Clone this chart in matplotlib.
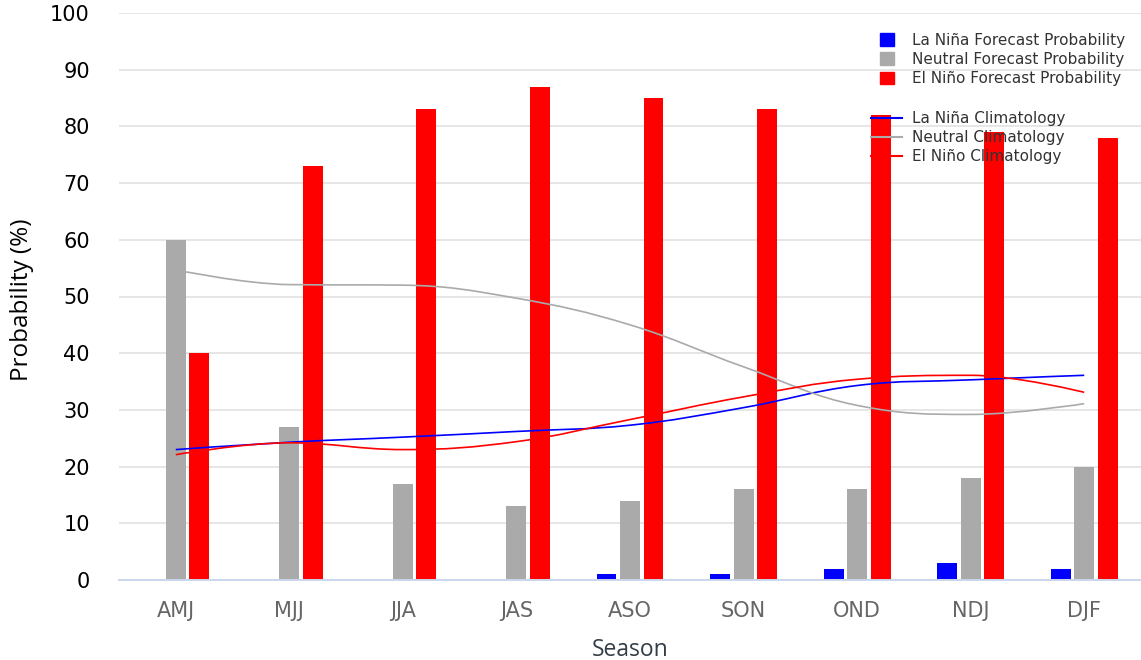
import matplotlib.pyplot as plt
from matplotlib.path import Path
from matplotlib.patches import PathPatch, Patch
from matplotlib.lines import Line2D

# Seasons and forecast probabilities (%)
seasons = ['AMJ', 'MJJ', 'JJA', 'JAS', 'ASO', 'SON', 'OND', 'NDJ', 'DJF']
lanina_prob = [0, 0, 0, 0, 1, 1, 2, 3, 2]
neutral_prob = [60, 27, 17, 13, 14, 16, 16, 18, 20]
elnino_prob = [40, 73, 83, 87, 85, 83, 82, 79, 78]

# Climatology (%)
lanina_clim = [23.0, 24.3, 25.2, 26.2, 27.3, 30.4, 34.3, 35.3, 36.1]
neutral_clim = [54.7, 52.1, 52.0, 49.7, 45.0, 37.6, 30.8, 29.2, 31.1]
elnino_clim = [22.1, 24.2, 23.0, 24.4, 28.3, 32.3, 35.4, 36.1, 33.1]

BLUE = '#0000ff'
GRAY = '#aaaaaa'
RED = '#ff0000'


def spline_path(xs, ys, smoothing=1.5):
    # bezier control points like a highcharts "spline" series
    n = len(xs)
    left = [None] * n
    right = [None] * n
    d = smoothing + 1
    for i in range(n):
        x, y = xs[i], ys[i]
        if 0 < i < n - 1:
            lx, ly = xs[i - 1], ys[i - 1]
            nx, ny = xs[i + 1], ys[i + 1]
            lcx = (smoothing * x + lx) / d
            lcy = (smoothing * y + ly) / d
            rcx = (smoothing * x + nx) / d
            rcy = (smoothing * y + ny) / d
            corr = (rcy - lcy) * (rcx - x) / (rcx - lcx) + y - rcy
            lcy += corr
            rcy += corr
            if lcy > ly and lcy > y:
                lcy = max(ly, y)
                rcy = 2 * y - lcy
            elif lcy < ly and lcy < y:
                lcy = min(ly, y)
                rcy = 2 * y - lcy
            if rcy > ny and rcy > y:
                rcy = max(ny, y)
                lcy = 2 * y - rcy
            elif rcy < ny and rcy < y:
                rcy = min(ny, y)
                lcy = 2 * y - rcy
            left[i] = (lcx, lcy)
            right[i] = (rcx, rcy)
        else:
            left[i] = right[i] = (x, y)
    verts = [(xs[0], ys[0])]
    codes = [Path.MOVETO]
    for i in range(1, n):
        verts += [right[i - 1], left[i], (xs[i], ys[i])]
        codes += [Path.CURVE4] * 3
    return Path(verts, codes)


fig = plt.figure(figsize=(11.41, 6.6), dpi=100)
ax = fig.add_axes([119 / 1141, 80 / 660, 1022 / 1141, 567 / 660])

x = list(range(len(seasons)))
w = 0.176
off = 0.207
ax.bar([i - off for i in x], lanina_prob, width=w, color=BLUE, zorder=2)
ax.bar(x, neutral_prob, width=w, color=GRAY, zorder=2)
ax.bar([i + off for i in x], elnino_prob, width=w, color=RED, zorder=2)

for vals, col in [(lanina_clim, BLUE), (neutral_clim, GRAY), (elnino_clim, RED)]:
    ax.add_patch(PathPatch(spline_path(x, vals), facecolor='none',
                           edgecolor=col, lw=1.2, zorder=3))

ax.set_xlim(-0.5, 8.5)
ax.set_ylim(0, 100)
ax.set_yticks(range(0, 101, 10))
ax.set_xticks(x)
ax.set_xticklabels(seasons)
ax.tick_params(axis='both', length=0)
ax.tick_params(axis='y', labelsize=15, labelcolor='black', pad=21)
ax.tick_params(axis='x', labelsize=15, labelcolor='#666666', pad=15)
ax.grid(axis='y', color='#e6e6e6', lw=1.4, zorder=0)
for s in ['top', 'right', 'left']:
    ax.spines[s].set_visible(False)
ax.spines['bottom'].set_color('#ccd6eb')
ax.spines['bottom'].set_linewidth(1.4)
ax.set_axisbelow(True)

ax.set_xlabel('Season', fontsize=16.5, color='#333d47', family='Open Sans', labelpad=12)
ax.set_ylabel('Probability (%)', fontsize=17.5, color='black', family='Open Sans')
ax.yaxis.set_label_coords(-0.083, 0.495)

bar_handles = [Patch(color=BLUE), Patch(color=GRAY), Patch(color=RED)]
leg1 = fig.legend(bar_handles,
                  ['La Niña Forecast Probability', 'Neutral Forecast Probability',
                   'El Niño Forecast Probability'],
                  loc='upper left', bbox_to_anchor=(880 / 1141, 1 - 33 / 660),
                  frameon=False, fontsize=11, handlelength=0.92, handleheight=0.92,
                  handletextpad=1.18, labelspacing=0.27, borderpad=0, borderaxespad=0,
                  labelcolor='#333333')
line_handles = [Line2D([], [], color=BLUE, lw=1.5), Line2D([], [], color=GRAY, lw=1.5),
                Line2D([], [], color=RED, lw=1.5)]
leg2 = fig.legend(line_handles,
                  ['La Niña Climatology', 'Neutral Climatology', 'El Niño Climatology'],
                  loc='upper left', bbox_to_anchor=(871 / 1141, 1 - 111 / 660),
                  frameon=False, fontsize=11, handlelength=2.03,
                  handletextpad=0.65, labelspacing=0.27, borderpad=0, borderaxespad=0,
                  labelcolor='#333333')

fig.savefig('out.png', dpi=100)
